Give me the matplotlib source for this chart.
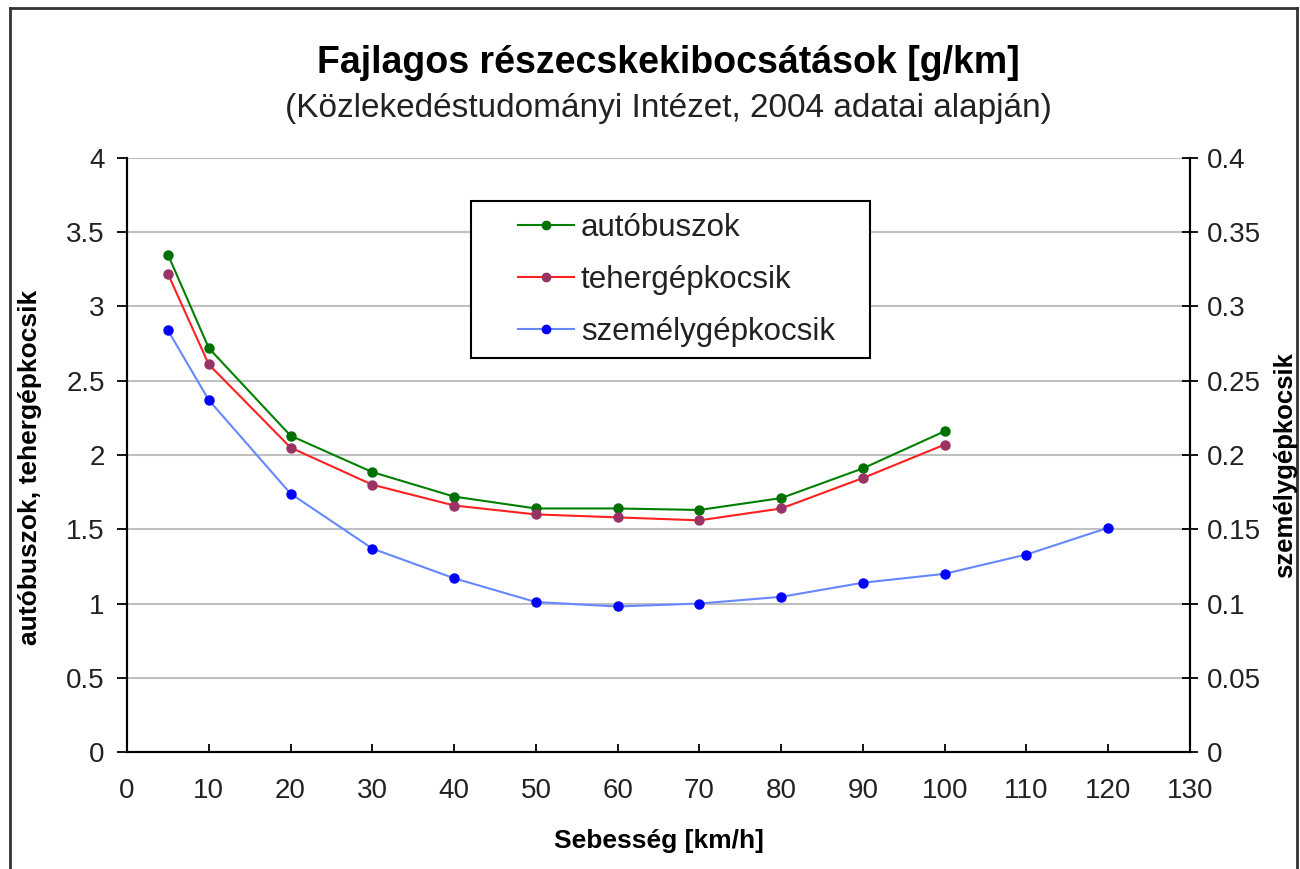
import matplotlib
matplotlib.use("Agg")
import matplotlib.pyplot as plt
from matplotlib.lines import Line2D
from matplotlib.patches import Rectangle

plt.rcParams['font.family'] = ['Liberation Sans', 'DejaVu Sans']

speed_bus_truck = [5, 10, 20, 30, 40, 50, 60, 70, 80, 90, 100]
bus = [3.35, 2.72, 2.13, 1.885, 1.72, 1.64, 1.64, 1.63, 1.71, 1.91, 2.16]
truck = [3.22, 2.61, 2.05, 1.80, 1.66, 1.60, 1.58, 1.56, 1.64, 1.845, 2.07]
speed_car = [5, 10, 20, 30, 40, 50, 60, 70, 80, 90, 100, 110, 120]
car = [0.284, 0.237, 0.174, 0.137, 0.117, 0.101, 0.098, 0.100, 0.1045, 0.114, 0.120, 0.133, 0.151]

x_ticks = list(range(0, 131, 10))
left_ticks = [0, 0.5, 1, 1.5, 2, 2.5, 3, 3.5, 4]
left_labels = ['0', '0.5', '1', '1.5', '2', '2.5', '3', '3.5', '4']
right_ticks = [0, 0.05, 0.1, 0.15, 0.2, 0.25, 0.3, 0.35, 0.4]
right_labels = ['0', '0.05', '0.1', '0.15', '0.2', '0.25', '0.3', '0.35', '0.4']

labels = ['autóbuszok', 'tehergépkocsik', 'személygépkocsik']
title = 'Fajlagos részecskekibocsátások [g/km]'
subtitle = '(Közlekedéstudományi Intézet, 2004 adatai alapján)'

fig = plt.figure(figsize=(13, 8.69), dpi=100)
ax = fig.add_axes([0.0977, 0.1346, 0.8177, 0.6836])
ax2 = ax.twinx()

ax.set_xlim(0, 130)
ax.set_ylim(0, 4)
ax2.set_ylim(0, 0.4)

ax.yaxis.grid(True, color='#c0c0c0', linewidth=1.5)
ax.set_axisbelow(True)

ax.plot(speed_bus_truck, bus, color='#008000', lw=1.5, marker='o', ms=6.5,
        mfc='#007000', mec='#007000', zorder=3)
ax.plot(speed_bus_truck, truck, color='#ff2020', lw=1.5, marker='o', ms=6.5,
        mfc='#993366', mec='#993366', zorder=3)
ax2.plot(speed_car, car, color='#6688ff', lw=1.5, marker='o', ms=6.5,
         mfc='#0000ff', mec='#0000ff', zorder=3)

for a in (ax, ax2):
    a.spines['top'].set_visible(False)
    for s in ('left', 'right', 'bottom'):
        a.spines[s].set_color('black')
        a.spines[s].set_linewidth(1.5)

ax.set_xticks(x_ticks)
ax.set_xticklabels([str(v) for v in x_ticks])
ax.set_yticks(left_ticks)
ax.set_yticklabels(left_labels)
ax2.set_yticks(right_ticks)
ax2.set_yticklabels(right_labels)

ax.tick_params(axis='x', direction='in', length=6, width=1.3, labelsize=20, pad=19, colors='black', labelcolor='#222222')
ax.tick_params(axis='y', direction='out', length=7, width=1.3, labelsize=20, pad=9, labelcolor='#222222')
ax2.tick_params(axis='y', direction='inout', length=12, width=1.3, labelsize=20, pad=6, labelcolor='#222222')

ax.set_xlabel('Sebesség [km/h]', fontsize=19, fontweight='bold', labelpad=18)
ax.set_ylabel('autóbuszok, tehergépkocsik', fontsize=19, fontweight='bold')
ax.yaxis.set_label_coords(-0.080, 0.48)
fig.text(0.9885, 0.465, 'személygépkocsik', fontsize=18.5, fontweight='bold',
         rotation=90, ha='center', va='center')

fig.text(0.514, 0.928, title, ha='center', va='center', fontsize=27, fontweight='bold')
fig.text(0.514, 0.875, subtitle, ha='center', va='center', fontsize=24, color='#222222')

handles = [
    Line2D([], [], color='#008000', lw=1.5, marker='o', ms=6, mfc='#007000', mec='#007000'),
    Line2D([], [], color='#ff2020', lw=1.5, marker='o', ms=6, mfc='#993366', mec='#993366'),
    Line2D([], [], color='#6688ff', lw=1.5, marker='o', ms=6, mfc='#0000ff', mec='#0000ff'),
]
# legend box (white, covers gridlines)
ax2.add_patch(Rectangle((0.3623, 0.588), 0.3069, 0.1807, transform=fig.transFigure,
                        facecolor='white', edgecolor='black', lw=1.5, zorder=4,
                        clip_on=False))
leg = ax2.legend(handles, labels, loc='upper left', bbox_to_anchor=(0.3518, 0.936),
                 fontsize=22.5, frameon=False,
                 handlelength=1.8, handletextpad=0.2, borderpad=0.55, labelspacing=0.7,
                 borderaxespad=0)
leg.set_zorder(6)
for t in leg.get_texts():
    t.set_color('#222222')

# outer frame
fig.add_artist(Line2D([0.008, 0.008], [0.0, 0.991], color='#333333', lw=2, transform=fig.transFigure))
fig.add_artist(Line2D([0.008, 0.998], [0.991, 0.991], color='#333333', lw=2, transform=fig.transFigure))
fig.add_artist(Line2D([0.998, 0.998], [0.0, 0.991], color='#333333', lw=2, transform=fig.transFigure))

fig.savefig('out.png', dpi=100)
